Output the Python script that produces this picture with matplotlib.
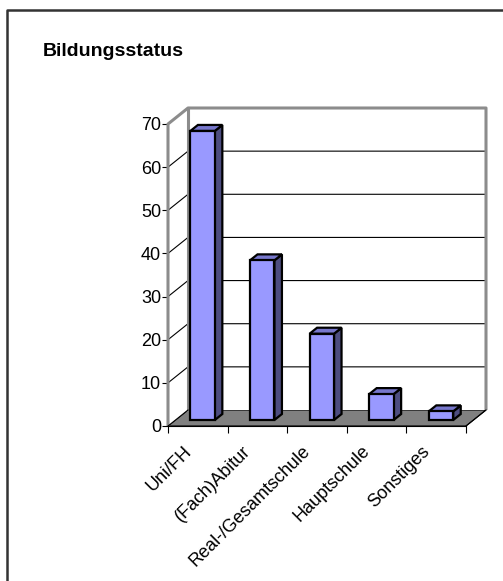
import numpy as np
import matplotlib.pyplot as plt
from matplotlib.patches import Polygon
from matplotlib.lines import Line2D
from matplotlib.transforms import ScaledTranslation

plt.rcParams['font.family'] = ['Liberation Sans', 'DejaVu Sans']

categories = ['Uni/FH', '(Fach)Abitur', 'Real-/Gesamtschule', 'Hauptschule', 'Sonstiges']
values = [67, 37, 20, 6, 2]
yticks = [0, 10, 20, 30, 40, 50, 60, 70]

W, H = 503, 581
fig = plt.figure(figsize=(W / 100, H / 100), dpi=100)

# front plane of the 3d box in pixels
x0, x1 = 168, 466
y0, y1 = 426, 124
ax = fig.add_axes([x0 / W, 1 - y0 / H, (x1 - x0) / W, (y0 - y1) / H])
n = len(categories)
ymax = yticks[-1]
ax.set_xlim(0, n)
ax.set_ylim(0, ymax)

# depth offset (front -> back) in data units
DX = 20 / ((x1 - x0) / n)
DY = 16 / ((y0 - y1) / ymax)


def proj(x, v, d):
    return (x + d * DX, v + d * DY)


def poly(pts, **kw):
    p = Polygon([proj(*pt) for pt in pts], closed=True, clip_on=False, **kw)
    ax.add_patch(p)
    return p


def line(pts, **kw):
    xs, ys = zip(*[proj(*p) for p in pts])
    ax.plot(xs, ys, clip_on=False, **kw)


wall_gray = '#8c8c8c'

# floor
poly([(0, 0, 0), (n, 0, 0), (n, 0, 1), (0, 0, 1)], facecolor='#808080',
     edgecolor='black', lw=0.8, zorder=1)
# back wall
poly([(0, 0, 1), (n, 0, 1), (n, ymax, 1), (0, ymax, 1)], facecolor='white',
     edgecolor='none', zorder=1)
# left wall
poly([(0, 0, 0), (0, 0, 1), (0, ymax, 1), (0, ymax, 0)], facecolor='white',
     edgecolor='none', zorder=1)

# gridlines on back and side wall
for v in yticks[1:-1]:
    line([(0, v, 0), (0, v, 1), (n, v, 1)], color='black', lw=0.8, zorder=2)

# wall edges
line([(0, 0, 0), (0, ymax, 0), (0, ymax, 1), (n, ymax, 1), (n, 0, 1)],
     color=wall_gray, lw=2.2, zorder=2, solid_capstyle='butt')
line([(0, ymax, 1), (0, 0, 1)], color=wall_gray, lw=2.2, zorder=2)
line([(0, 0, 0), (0, 0, 1)], color='black', lw=0.8, zorder=2)
line([(n, 0, 0), (n, 0, 1)], color='black', lw=0.8, zorder=2)

# bars
b0, b1 = 0.25, 0.66
d0, d1 = 0.375, 0.75
front_c, side_c, top_c = '#9999ff', '#4d4d80', '#7777cc'
for i, v in enumerate(values):
    xl, xr = i + b0, i + b1
    ek = dict(edgecolor='black', lw=1.6, joinstyle='miter', zorder=5)
    poly([(xr, 0, d0), (xr, 0, d1), (xr, v, d1), (xr, v, d0)], facecolor=side_c, **ek)
    poly([(xl, v, d0), (xr, v, d0), (xr, v, d1), (xl, v, d1)], facecolor=top_c, **ek)
    poly([(xl, 0, d0), (xr, 0, d0), (xr, v, d0), (xl, v, d0)], facecolor=front_c, **ek)

# axes
for s in ['top', 'right', 'left']:
    ax.spines[s].set_visible(False)
ax.spines['bottom'].set_color('black')
ax.spines['bottom'].set_linewidth(0.8)
ax.patch.set_visible(False)

ax.set_yticks(yticks)
ax.tick_params(axis='y', length=4, width=0.8, pad=1, labelsize=13)
ax.set_xticks(np.arange(n + 1))
ax.set_xticklabels([])
ax.set_xticks(np.arange(n) + 0.5, minor=True)
ax.set_xticklabels(categories, minor=True, rotation=45, ha='right',
                   rotation_mode='anchor', fontsize=13)
ax.tick_params(axis='x', which='major', length=5, width=0.8)
ax.tick_params(axis='x', which='minor', length=0, pad=12)
shift = ScaledTranslation(-15 / 100, 0, fig.dpi_scale_trans)
for lab in ax.get_xticklabels(minor=True):
    lab.set_transform(lab.get_transform() + shift)

fig.text(43 / W, 1 - 52 / H, 'Bildungsstatus', fontsize=14, fontweight='bold',
         va='center', ha='left')

# chart area frame
fig.add_artist(Line2D([6.5 / W, 6.5 / W, 1], [0, 1 - 9.5 / H, 1 - 9.5 / H],
                      color='#333333', lw=1.8))

fig.savefig('out.png', dpi=100)
